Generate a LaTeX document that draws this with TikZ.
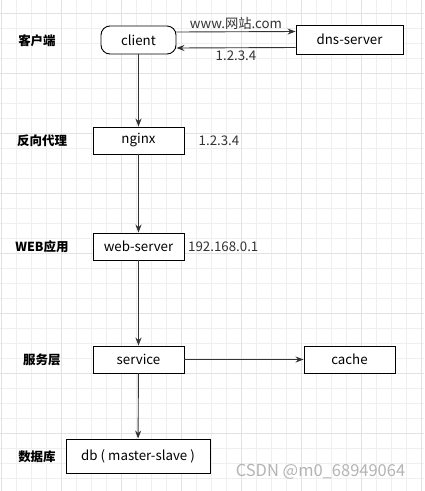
\documentclass[tikz,border=0pt]{standalone}
\usepackage{fontspec}
\setmainfont{Noto Sans CJK SC}
\usetikzlibrary{arrows.meta}

\definecolor{gridminor}{HTML}{EFEFEF}
\definecolor{gridmajor}{HTML}{E2E2E2}
\definecolor{linegray}{HTML}{333333}
\definecolor{markgray}{HTML}{B4B4B4}

\tikzset{
	box/.style={draw=black, line width=0.9pt, fill=white, inner sep=0pt, minimum width=91pt, minimum height=27pt, font=\fontsize{13.3}{15}\selectfont},
	layer/.style={font=\fontsize{12.5}{14}\bfseries\selectfont},
	note/.style={inner sep=0pt, font=\fontsize{13.3}{15}\selectfont, text=linegray},
	flow/.style={->, >={Stealth[length=8pt,width=6pt]}, draw=linegray, line width=0.9pt}
}

\begin{document}
\begin{tikzpicture}[x=1pt, y=-1pt]
		\useasboundingbox (0,0) rectangle (424,491);
		\fill[white] (0,0) rectangle (424,491);
		% grid
		\foreach \x in {1,16,...,421}
			\draw[gridminor, line width=0.8pt] (\x,0) -- (\x,491);
		\foreach \y in {13,28,...,488}
			\draw[gridminor, line width=0.8pt] (0,\y) -- (424,\y);
		\foreach \x in {1,61,...,421}
			\draw[gridmajor, line width=0.8pt] (\x,0) -- (\x,491);
		\foreach \y in {13,73,...,491}
			\draw[gridmajor, line width=0.8pt] (0,\y) -- (424,\y);
		
		% layers
		\node[layer] (l1) at (37,41) {客户端};
		\node[layer] (l2) at (42,141) {反向代理};
		\node[layer] (l3) at (42,247) {WEB应用};
		\node[layer] (l4) at (42,360) {服务层};
		\node[layer] (l5) at (37,457) {数据库};
		
		% boxes
		\node[box, rounded corners=9pt, minimum width=75pt, minimum height=28pt] (client) at (138.5,40) {client};
		\node[box, minimum width=107pt, minimum height=29pt] (dns) at (349.5,39.5) {dns-server};
		\node[box] (nginx) at (138.5,140.5) {nginx};
		\node[box] (web) at (138.5,246.5) {web-server};
		\node[box] (service) at (138.5,359.5) {service};
		\node[box] (cache) at (349.5,359.5) {cache};
		\node[box, minimum width=144pt, minimum height=34pt] (db) at (138,456) {db\hspace{3pt}(\hspace{3pt}master-slave\hspace{3pt})};
		
		% connectors
		\draw[flow] ([yshift=8pt]client.east) -- ([yshift=8pt]dns.west) node[note, midway, above=2pt] {www.网站.com};
		\draw[flow] ([yshift=-8pt]dns.west) -- ([yshift=-8pt]client.east) node[note, midway, below=3pt] {1.2.3.4};
		\draw[flow] (client) -- (nginx);
		\draw[flow] (nginx) -- (web);
		\draw[flow] (web) -- (service);
		\draw[flow] (service) -- (db);
		\draw[flow] (service) -- (cache);
		
		\node[note] (ip1) at (219,141) {1.2.3.4};
		\node[note, anchor=west] (ip2) at (188,247) {192.168.0.1};
		
		\node[font=\fontsize{16.5}{18}\selectfont, text=markgray, inner sep=0pt] (mark) at (320.5,472) {CSDN @m0\_68949064};
	\end{tikzpicture}
\end{document}
